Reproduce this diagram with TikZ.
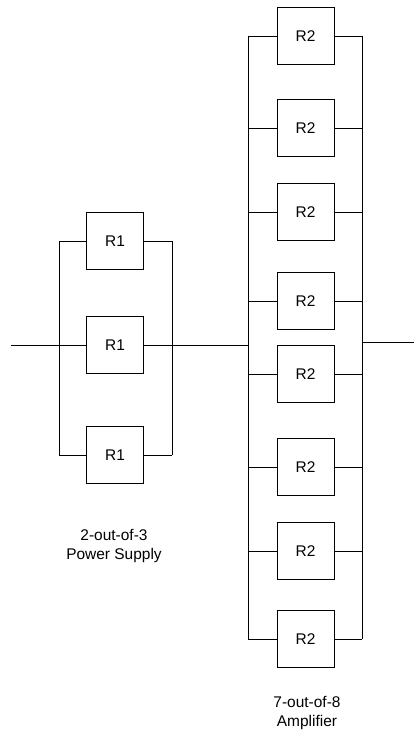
\documentclass[tikz,border=0pt]{standalone}
\usepackage{fontspec}
\setmainfont{Liberation Sans}

\newcommand*{\psbusl}{59}
\newcommand*{\psbusr}{172}
\newcommand*{\ampbusl}{248}
\newcommand*{\ampbusr}{362}

\begin{document}
\begin{tikzpicture}
[
	block/.style={draw,line width=0.7pt,minimum size=1.425cm,inner sep=0pt,font=\fontsize{11}{13}\selectfont},
	wire/.style={line width=0.7pt},
	caption/.style={align=center,inner sep=0pt,font=\fontsize{11}{13.5}\selectfont},
	x=0.025cm,
	y=-0.025cm
]

	\useasboundingbox (0,0) rectangle (414,735);

	% bus positions
	\coordinate (psl) at (\psbusl,0);
	\coordinate (psr) at (\psbusr,0);
	\coordinate (ampl) at (\ampbusl,0);
	\coordinate (ampr) at (\ampbusr,0);

	% power supply, 2-out-of-3
	\foreach \y [count=\i] in {241,345,455} {
		\node[block] (ps\i) at (115,\y) {R1};
		\draw[wire] (ps\i.west) -- (ps\i.west -| psl);
		\draw[wire] (ps\i.east) -- (ps\i.east -| psr);
	}
	\draw[wire] (ps1.west -| psl) -- (ps3.west -| psl);
	\draw[wire] (ps1.east -| psr) -- (ps3.east -| psr);

	% amplifier, 7-out-of-8
	\foreach \y [count=\i] in {36,128,212,301,374,467,551,639} {
		\node[block] (amp\i) at (305.5,\y) {R2};
		\draw[wire] (amp\i.west) -- (amp\i.west -| ampl);
		\draw[wire] (amp\i.east) -- (amp\i.east -| ampr);
	}
	\draw[wire] (amp1.west -| ampl) -- (amp8.west -| ampl);
	\draw[wire] (amp1.east -| ampr) -- (amp8.east -| ampr);

	% in, link, out
	\coordinate (in) at (11,345);
	\coordinate (out) at (414,342);
	\draw[wire] (in) -- (ps2.west -| psl);
	\draw[wire] (ps2.east -| psr) -- (ps2.east -| ampl);
	\draw[wire] (out -| ampr) -- (out);

	% labels
	\node[caption] (pslabel) at (114,546) {2-out-of-3\\Power Supply};
	\node[caption] (amplabel) at (307,713) {7-out-of-8\\Amplifier};

\end{tikzpicture}
\end{document}
